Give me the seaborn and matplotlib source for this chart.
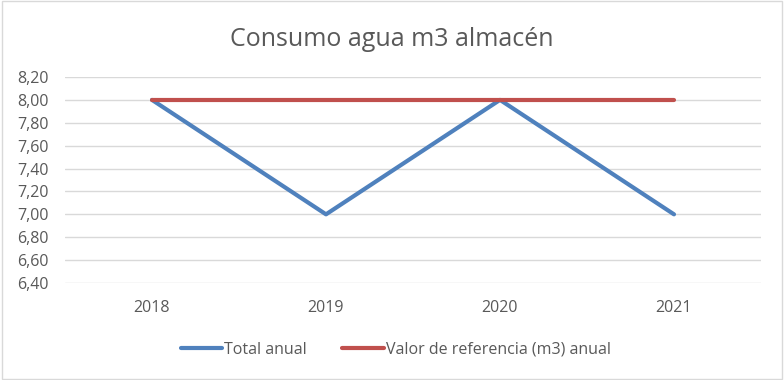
import matplotlib
matplotlib.use("Agg")
import matplotlib.pyplot as plt
import seaborn as sns
import pandas as pd
from matplotlib.ticker import FuncFormatter, MultipleLocator
from matplotlib.patches import Rectangle

# datos
years = ["2018", "2019", "2020", "2021"]
total_anual = [8.0, 7.0, 8.0, 7.0]
valor_referencia = [8.0, 8.0, 8.0, 8.0]
series_names = ["Total anual", "Valor de referencia (m3) anual"]

df = pd.DataFrame({
    "year": years * 2,
    "value": total_anual + valor_referencia,
    "serie": [series_names[0]] * 4 + [series_names[1]] * 4,
})

sns.set_theme(style="white")
plt.rcParams["font.family"] = ["Open Sans", "DejaVu Sans"]

fig = plt.figure(figsize=(7.84, 3.80), dpi=100)
ax = fig.add_axes([65 / 784, 1 - 283 / 380, (761 - 65) / 784, (283 - 77) / 380])

sns.lineplot(data=df, x="year", y="value", hue="serie", sort=False,
             palette=["#4F81BD", "#C0504D"], linewidth=3.0, ax=ax,
             legend=False, solid_capstyle="round")

ax.set_xlim(-0.5, 3.5)
ax.set_ylim(6.4, 8.2)
ax.yaxis.set_major_locator(MultipleLocator(0.2))
ax.yaxis.set_major_formatter(FuncFormatter(lambda v, p: f"{v:.2f}".replace(".", ",")))
ax.grid(axis="y", color="#D9D9D9", linewidth=1)
ax.set_axisbelow(True)
for s in ax.spines.values():
    s.set_visible(False)
ax.tick_params(axis="both", length=0, labelsize=11.5, labelcolor="#595959")
ax.tick_params(axis="y", pad=12)
ax.tick_params(axis="x", pad=12)
ax.set_xlabel("")
ax.set_ylabel("")

fig.text(0.5, 1 - 40 / 380, "Consumo agua m3 almacén", ha="center", va="center",
         fontsize=18, color="#595959")

# leyenda
handles = [plt.Line2D([], [], color=c, linewidth=3.0, solid_capstyle="round")
           for c in ["#4F81BD", "#C0504D"]]
fig.legend(handles, series_names, loc="center", bbox_to_anchor=(0.505, 1 - 350 / 380),
           ncol=2, frameon=False, fontsize=11.5, labelcolor="#595959",
           handlelength=2.6, handletextpad=0.15, columnspacing=2.2)

fig.patches.append(Rectangle((0.002, 0.003), 0.995, 0.994, transform=fig.transFigure,
                             fill=False, edgecolor="#D9D9D9", linewidth=1))

fig.savefig("out.png", dpi=100)
